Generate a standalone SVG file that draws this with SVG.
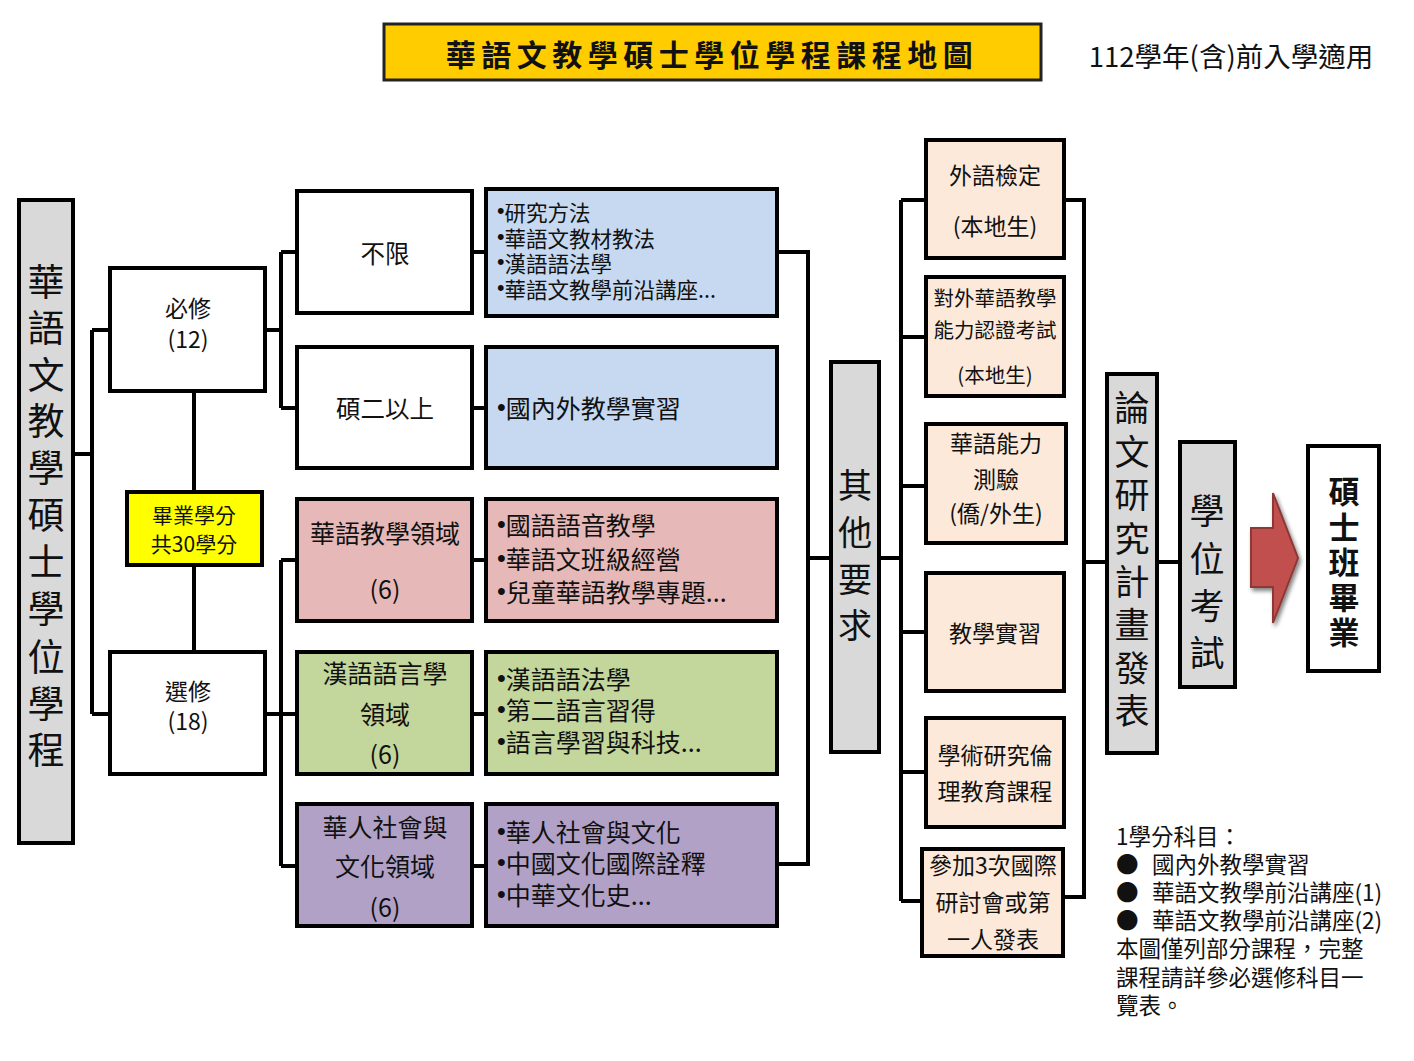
<svg xmlns="http://www.w3.org/2000/svg" width="1414" height="1061" viewBox="0 0 1414 1061">
<defs>
<style>
text{font-family:"Noto Sans CJK TC","Noto Sans CJK SC",sans-serif;fill:#111;dominant-baseline:central}
.box{stroke:#000;stroke-width:4}
.w{fill:#fff}.g{fill:#d9d9d9}.b{fill:#c6d9f0}.p{fill:#e6b9b8}.gr{fill:#c3d69b}.pu{fill:#b2a1c7}.pe{fill:#fde9d9}
.c{text-anchor:middle}
.bu{font-family:"Liberation Sans",Arial,sans-serif}
.conn{fill:none;stroke:#000;stroke-width:4}
</style>
<filter id="sh" x="-30%" y="-30%" width="160%" height="160%"><feGaussianBlur in="SourceAlpha" stdDeviation="2"/><feOffset dx="2" dy="3"/><feComponentTransfer><feFuncA type="linear" slope="0.5"/></feComponentTransfer><feMerge><feMergeNode/><feMergeNode in="SourceGraphic"/></feMerge></filter>
</defs>
<rect width="1414" height="1061" fill="#fff"/>

<g id="connectors" class="conn">
<path d="M73 454H92M92 330V714M92 330H110M92 714H110"/>
<path d="M194 391V492M194 565V652"/>
<path d="M265 330H281M281 252V408M281 252H297M281 408H297M472 252H486M472 408H486"/>
<path d="M265 714H281M281 560V866M281 560H297M281 714H297M281 866H297M472 560H486M472 714H486M472 866H486"/>
<path d="M777 252H808V864H777M808 558H831"/>
<path d="M879 558H901M901 200V901M901 200H926M901 337H926M901 486H926M901 632H926M901 772H926M901 901H922"/>
<path d="M1064 200H1084V897H1063M1084 562H1107M1157 562H1180"/>
</g>

<g id="title"><rect x="384" y="24" width="657" height="56" fill="#ffcc00" stroke="#222" stroke-width="3"/>
<text x="712" y="53" class="c" font-size="30" font-weight="700" letter-spacing="5.5">華語文教學碩士學位學程課程地圖</text></g>
<g id="subtitle"><text x="1231" y="55" class="c" font-size="27.5">112學年(含)前入學適用</text></g>

<g id="program"><rect class="box g" x="19" y="200" width="54" height="643"/>
<text class="c" font-size="37"><tspan x="46" y="280">華</tspan><tspan x="46" y="326">語</tspan><tspan x="46" y="373">文</tspan><tspan x="46" y="419">教</tspan><tspan x="46" y="466">學</tspan><tspan x="46" y="513">碩</tspan><tspan x="46" y="560">士</tspan><tspan x="46" y="607">學</tspan><tspan x="46" y="655">位</tspan><tspan x="46" y="702">學</tspan><tspan x="46" y="748">程</tspan></text></g>

<g id="required"><rect class="box w" x="110" y="268" width="155" height="123"/>
<text class="c" font-size="23"><tspan x="188" y="307">必修</tspan><tspan x="188" y="338">(12)</tspan></text></g>
<g id="credits"><rect class="box" fill="#ffff00" x="127" y="492" width="135" height="73"/>
<text class="c" font-size="21"><tspan x="194" y="514">畢業學分</tspan><tspan x="194" y="543">共30學分</tspan></text></g>
<g id="elective"><rect class="box w" x="110" y="652" width="155" height="122"/>
<text class="c" font-size="23"><tspan x="188" y="690">選修</tspan><tspan x="188" y="720">(18)</tspan></text></g>

<g id="unlimited"><rect class="box w" x="297" y="191" width="175" height="122"/>
<text class="c" x="385" y="252" font-size="24.5">不限</text></g>
<g id="unlimited-courses"><rect class="box b" x="486" y="189" width="291" height="127"/>
<text font-size="21.5"><tspan x="497" y="211"><tspan class="bu">•</tspan>研究方法</tspan><tspan x="497" y="237"><tspan class="bu">•</tspan>華語文教材教法</tspan><tspan x="497" y="262"><tspan class="bu">•</tspan>漢語語法學</tspan><tspan x="497" y="288"><tspan class="bu">•</tspan>華語文教學前沿講座...</tspan></text></g>

<g id="year2"><rect class="box w" x="297" y="347" width="175" height="121"/>
<text class="c" x="385" y="407" font-size="24.5">碩二以上</text></g>
<g id="year2-courses"><rect class="box b" x="486" y="347" width="291" height="121"/>
<text x="497" y="407" font-size="25"><tspan class="bu">•</tspan>國內外教學實習</text></g>

<g id="teaching"><rect class="box p" x="297" y="499" width="175" height="122"/>
<text class="c" font-size="25"><tspan x="385" y="532">華語教學領域</tspan><tspan x="385" y="588">(6)</tspan></text></g>
<g id="teaching-courses"><rect class="box p" x="486" y="499" width="291" height="122"/>
<text font-size="25"><tspan x="497" y="524"><tspan class="bu">•</tspan>國語語音教學</tspan><tspan x="497" y="558"><tspan class="bu">•</tspan>華語文班級經營</tspan><tspan x="497" y="591"><tspan class="bu">•</tspan>兒童華語教學專題...</tspan></text></g>

<g id="linguistics"><rect class="box gr" x="297" y="652" width="175" height="122"/>
<text class="c" font-size="25"><tspan x="385" y="672">漢語語言學</tspan><tspan x="385" y="713">領域</tspan><tspan x="385" y="753">(6)</tspan></text></g>
<g id="linguistics-courses"><rect class="box gr" x="486" y="652" width="291" height="122"/>
<text font-size="25"><tspan x="497" y="678"><tspan class="bu">•</tspan>漢語語法學</tspan><tspan x="497" y="709"><tspan class="bu">•</tspan>第二語言習得</tspan><tspan x="497" y="741"><tspan class="bu">•</tspan>語言學習與科技...</tspan></text></g>

<g id="culture"><rect class="box pu" x="297" y="804" width="175" height="122"/>
<text class="c" font-size="25"><tspan x="385" y="826">華人社會與</tspan><tspan x="385" y="865">文化領域</tspan><tspan x="385" y="906">(6)</tspan></text></g>
<g id="culture-courses"><rect class="box pu" x="486" y="804" width="291" height="122"/>
<text font-size="25"><tspan x="497" y="831"><tspan class="bu">•</tspan>華人社會與文化</tspan><tspan x="497" y="862"><tspan class="bu">•</tspan>中國文化國際詮釋</tspan><tspan x="497" y="894"><tspan class="bu">•</tspan>中華文化史...</tspan></text></g>

<g id="other"><rect class="box g" x="831" y="362" width="48" height="390"/>
<text class="c" font-size="34"><tspan x="855" y="483">其</tspan><tspan x="855" y="530">他</tspan><tspan x="855" y="577">要</tspan><tspan x="855" y="623">求</tspan></text></g>

<g id="foreign-lang"><rect class="box pe" x="926" y="140" width="138" height="118"/>
<text class="c" font-size="23"><tspan x="995" y="174">外語檢定</tspan><tspan x="995" y="225">(本地生)</tspan></text></g>
<g id="cert-exam"><rect class="box pe" x="926" y="277" width="138" height="119"/>
<text class="c" font-size="20.5"><tspan x="995" y="297">對外華語教學</tspan><tspan x="995" y="329">能力認證考試</tspan><tspan x="995" y="374">(本地生)</tspan></text></g>
<g id="proficiency"><rect class="box pe" x="926" y="424" width="140" height="119"/>
<text class="c" font-size="23"><tspan x="996" y="442">華語能力</tspan><tspan x="996" y="478">測驗</tspan><tspan x="996" y="512">(僑/外生)</tspan></text></g>
<g id="practicum"><rect class="box pe" x="926" y="573" width="138" height="118"/>
<text class="c" x="995" y="632" font-size="23">教學實習</text></g>
<g id="ethics"><rect class="box pe" x="926" y="718" width="138" height="109"/>
<text class="c" font-size="23"><tspan x="995" y="754">學術研究倫</tspan><tspan x="995" y="790">理教育課程</tspan></text></g>
<g id="conference"><rect class="box pe" x="922" y="849" width="141" height="107"/>
<text class="c" font-size="23"><tspan x="993" y="864">參加3次國際</tspan><tspan x="993" y="901">研討會或第</tspan><tspan x="993" y="938">一人發表</tspan></text></g>

<g id="proposal"><rect class="box g" x="1107" y="374" width="50" height="379"/>
<text class="c" font-size="35"><tspan x="1132" y="405">論</tspan><tspan x="1132" y="449">文</tspan><tspan x="1132" y="492">研</tspan><tspan x="1132" y="536">究</tspan><tspan x="1132" y="579">計</tspan><tspan x="1132" y="622">畫</tspan><tspan x="1132" y="665">發</tspan><tspan x="1132" y="708">表</tspan></text></g>
<g id="exam"><rect class="box g" x="1180" y="442" width="55" height="245"/>
<text class="c" font-size="35"><tspan x="1207" y="508">學</tspan><tspan x="1207" y="556">位</tspan><tspan x="1207" y="603">考</tspan><tspan x="1207" y="650">試</tspan></text></g>
<g id="arrow"><path d="M1251 528H1273V493L1298 558L1273 623V587H1251Z" fill="#c0504d" stroke="#8c3836" stroke-width="2" filter="url(#sh)"/></g>
<g id="graduate"><rect class="box w" x="1308" y="446" width="71" height="225"/>
<text class="c" font-size="31" font-weight="700"><tspan x="1344" y="489">碩</tspan><tspan x="1344" y="525">士</tspan><tspan x="1344" y="560">班</tspan><tspan x="1344" y="595">畢</tspan><tspan x="1344" y="630">業</tspan></text></g>

<g id="notes"><text font-size="22.5"><tspan x="1116" y="835">1學分科目：</tspan><tspan x="1116" y="863">●</tspan><tspan x="1152" y="863">國內外教學實習</tspan><tspan x="1116" y="891">●</tspan><tspan x="1152" y="891">華語文教學前沿講座(1)</tspan><tspan x="1116" y="919">●</tspan><tspan x="1152" y="919">華語文教學前沿講座(2)</tspan><tspan x="1116" y="947">本圖僅列部分課程，完整</tspan><tspan x="1116" y="976">課程請詳參必選修科目一</tspan><tspan x="1116" y="1004">覽表。</tspan></text></g>
</svg>
